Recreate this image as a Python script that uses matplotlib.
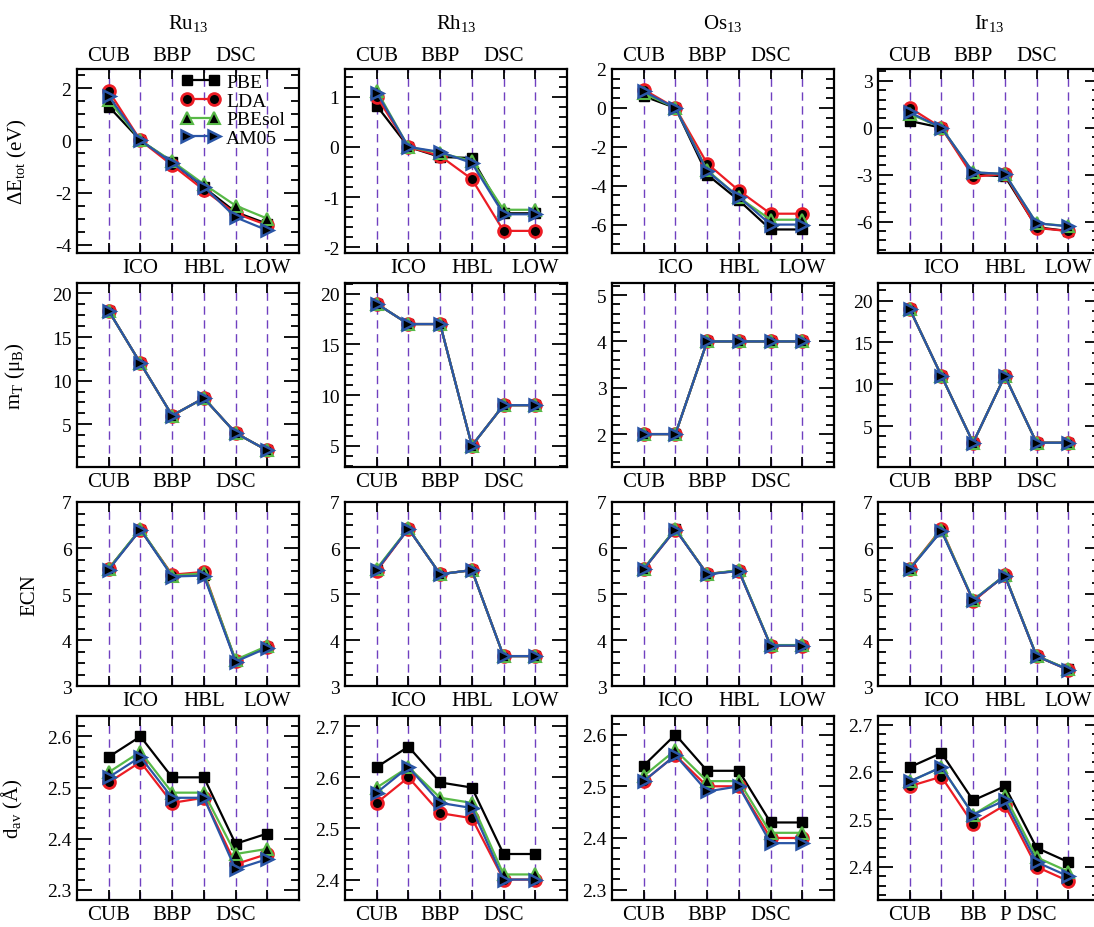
import matplotlib
matplotlib.use("Agg")
import matplotlib.pyplot as plt
from matplotlib.ticker import MultipleLocator, FormatStrFormatter
from matplotlib.transforms import blended_transform_factory

plt.rcParams['font.family'] = ['Liberation Serif', 'DejaVu Serif']
plt.rcParams['mathtext.fontset'] = 'custom'
plt.rcParams['mathtext.rm'] = 'Liberation Serif'
plt.rcParams['mathtext.it'] = 'Liberation Serif:italic'
plt.rcParams['mathtext.default'] = 'regular'

structures = ["CUB", "ICO", "BBP", "HBL", "DSC", "LOW"]
xpos = [1, 2, 3, 4, 5, 6]
functionals = ["PBE", "LDA", "PBEsol", "AM05"]
metals = ["Ru$_{13}$", "Rh$_{13}$", "Os$_{13}$", "Ir$_{13}$"]

# total energy relative to ICO (eV)
de_ru = {"PBE": [1.3, 0.0, -0.84, -1.80, -2.75, -3.20],
         "LDA": [1.9, 0.0, -0.95, -1.90, -2.80, -3.25],
         "PBEsol": [1.55, 0.0, -0.80, -1.68, -2.50, -3.00],
         "AM05": [1.7, 0.0, -0.85, -1.77, -2.95, -3.45]}
de_rh = {"PBE": [0.82, 0.0, -0.20, -0.22, -1.32, -1.32],
         "LDA": [1.00, 0.0, -0.18, -0.64, -1.67, -1.67],
         "PBEsol": [1.12, 0.0, -0.12, -0.28, -1.25, -1.25],
         "AM05": [1.08, 0.0, -0.10, -0.32, -1.34, -1.34]}
de_os = {"PBE": [0.60, 0.0, -3.43, -4.75, -6.25, -6.25],
         "LDA": [0.94, 0.0, -2.86, -4.25, -5.44, -5.44],
         "PBEsol": [0.75, 0.0, -3.20, -4.60, -5.75, -5.75],
         "AM05": [0.85, 0.0, -3.26, -4.58, -6.00, -6.00]}
de_ir = {"PBE": [0.43, 0.0, -3.00, -3.10, -6.35, -6.60],
         "LDA": [1.28, 0.0, -3.13, -2.95, -6.40, -6.60],
         "PBEsol": [0.90, 0.0, -2.85, -2.95, -6.10, -6.28],
         "AM05": [0.98, 0.0, -2.85, -2.95, -6.10, -6.30]}

# total magnetic moment (mu_B)
mt_ru = {f: [18, 12, 6, 8, 4, 2] for f in functionals}
mt_rh = {f: [19, 17, 17, 5, 9, 9] for f in functionals}
mt_os = {f: [2, 2, 4, 4, 4, 4] for f in functionals}
mt_ir = {f: [19, 11, 3, 11, 3, 3] for f in functionals}

# effective coordination number
ecn_ru = {"PBE": [5.55, 6.40, 5.40, 5.42, 3.55, 3.85],
          "LDA": [5.55, 6.40, 5.42, 5.48, 3.55, 3.85],
          "PBEsol": [5.55, 6.42, 5.40, 5.45, 3.57, 3.87],
          "AM05": [5.53, 6.40, 5.38, 5.40, 3.53, 3.83]}
ecn_rh = {"PBE": [5.53, 6.42, 5.43, 5.52, 3.65, 3.65],
          "LDA": [5.50, 6.42, 5.43, 5.52, 3.65, 3.65],
          "PBEsol": [5.55, 6.43, 5.43, 5.52, 3.65, 3.65],
          "AM05": [5.52, 6.42, 5.43, 5.52, 3.65, 3.65]}
ecn_os = {"PBE": [5.55, 6.41, 5.43, 5.51, 3.88, 3.88],
          "LDA": [5.54, 6.40, 5.44, 5.50, 3.88, 3.88],
          "PBEsol": [5.55, 6.42, 5.43, 5.52, 3.89, 3.89],
          "AM05": [5.54, 6.40, 5.43, 5.50, 3.88, 3.88]}
ecn_ir = {"PBE": [5.55, 6.38, 4.86, 5.40, 3.65, 3.36],
          "LDA": [5.55, 6.42, 4.84, 5.41, 3.65, 3.35],
          "PBEsol": [5.55, 6.40, 4.87, 5.41, 3.66, 3.36],
          "AM05": [5.54, 6.37, 4.86, 5.40, 3.65, 3.35]}

# average bond length (A)
dav_ru = {"PBE": [2.56, 2.60, 2.52, 2.52, 2.39, 2.41],
          "LDA": [2.51, 2.55, 2.47, 2.48, 2.35, 2.37],
          "PBEsol": [2.53, 2.57, 2.49, 2.49, 2.37, 2.38],
          "AM05": [2.52, 2.56, 2.48, 2.48, 2.34, 2.36]}
dav_rh = {"PBE": [2.62, 2.66, 2.59, 2.58, 2.45, 2.45],
          "LDA": [2.55, 2.60, 2.53, 2.52, 2.40, 2.40],
          "PBEsol": [2.58, 2.62, 2.56, 2.55, 2.41, 2.41],
          "AM05": [2.57, 2.62, 2.55, 2.54, 2.40, 2.40]}
dav_os = {"PBE": [2.54, 2.60, 2.53, 2.53, 2.43, 2.43],
          "LDA": [2.51, 2.56, 2.50, 2.50, 2.40, 2.40],
          "PBEsol": [2.52, 2.57, 2.51, 2.51, 2.41, 2.41],
          "AM05": [2.51, 2.56, 2.49, 2.50, 2.39, 2.39]}
dav_ir = {"PBE": [2.61, 2.64, 2.54, 2.57, 2.44, 2.41],
          "LDA": [2.57, 2.59, 2.49, 2.53, 2.40, 2.37],
          "PBEsol": [2.58, 2.61, 2.51, 2.55, 2.42, 2.39],
          "AM05": [2.58, 2.61, 2.51, 2.54, 2.41, 2.38]}

rows = [[de_ru, de_rh, de_os, de_ir],
        [mt_ru, mt_rh, mt_os, mt_ir],
        [ecn_ru, ecn_rh, ecn_os, ecn_ir],
        [dav_ru, dav_rh, dav_os, dav_ir]]

ylabels = ["ΔE$_{tot}$ (eV)", "m$_T$ (μ$_B$)", "ECN", "d$_{av}$ (Å)"]
ylabel_x = [-0.215, -0.225, -0.17, -0.235]

# (ylim, major, minor, format) per panel
yaxes = [[((-4.32, 2.74), 2, 0.5, "%d"), ((-2.11, 1.55), 1, 0.2, "%d"),
          ((-7.46, 2.0), 2, 0.5, "%d"), ((-8.0, 3.75), 3, 0.6, "%d")],
         [((0.1, 21.2), 5, 1.25, "%d"), ((2.9, 21.05), 5, 1, "%d"),
          ((1.29, 5.26), 1, 0.2, "%d"), ((0.1, 22.1), 5, 1.25, "%d")],
         [((3, 7), 1, 0.25, "%d")] * 4,
         [((2.28, 2.64), 0.1, 0.02, "%.1f"), ((2.36, 2.72), 0.1, 0.02, "%.1f"),
          ((2.28, 2.636), 0.1, 0.02, "%.1f"), ((2.33, 2.718), 0.1, 0.02, "%.1f")]]

style = {"PBE": dict(color="black", marker="s", mfc="black", mec="black", ms=7.5),
         "LDA": dict(color="#ec1c24", marker="o", mfc="black", mec="#ec1c24", ms=8.5, mew=2),
         "PBEsol": dict(color="#58b947", marker="^", mfc="black", mec="#58b947", ms=8.5, mew=1.5),
         "AM05": dict(color="#2a55a6", marker=">", mfc="black", mec="#2a55a6", ms=8.5, mew=1.8)}

W, H = 1094, 928
lefts = [77, 345, 612, 878]
tops = [70, 284, 503, 717]
pw, ph = 222, 184

fig = plt.figure(figsize=(W / 100, H / 100), dpi=100)

top_labels = (["CUB", "BBP", "DSC"], [1, 3, 5])
bottom_labels = [(["ICO", "HBL", "LOW"], [2, 4, 6]),
                 (["CUB", "BBP", "DSC"], [1, 3, 5]),
                 (["ICO", "HBL", "LOW"], [2, 4, 6]),
                 (["CUB", "BBP", "DSC"], [1, 3, 5])]

for r in range(4):
    for c in range(4):
        ax = fig.add_axes([lefts[c] / W, 1 - (tops[r] + ph) / H, pw / W, ph / H])
        data = rows[r][c]
        for x in xpos:
            ax.axvline(x, color="#7040c0", lw=1.0, ls=(0, (6, 4)), zorder=1)
        for f in functionals:
            ax.plot(xpos, data[f], lw=1.6, label=f, zorder=3, **style[f])

        (ylo, yhi), major, minor, fmt = yaxes[r][c]
        ax.set_xlim(0, 7)
        ax.set_ylim(ylo, yhi)
        ax.set_xticks(xpos)
        ax.set_xticklabels([])
        ax.yaxis.set_major_locator(MultipleLocator(major))
        ax.yaxis.set_minor_locator(MultipleLocator(minor))
        ax.yaxis.set_major_formatter(FormatStrFormatter(fmt))
        ax.tick_params(axis="both", which="both", direction="in", top=True, right=True, width=1.3)
        ax.tick_params(axis="x", which="major", length=7)
        ax.tick_params(axis="y", which="major", length=11, labelsize=14, pad=4)
        ax.tick_params(axis="y", which="minor", length=6)
        for s in ax.spines.values():
            s.set_linewidth(1.6)

        tr = blended_transform_factory(ax.transData, ax.transAxes)
        if r == 0:
            for lab, x in zip(*top_labels):
                ax.text(x, 1.075, lab, transform=tr, ha="center", va="center", fontsize=15)
            fig.text((lefts[c] + pw / 2) / W, 1 - 24 / H, metals[c], ha="center", va="center", fontsize=15)
        labs, xs = bottom_labels[r]
        if r == 3 and c == 3:
            labs, xs = ["CUB", "BB", "P", "DSC"], [1, 3, 4, 5]
        for lab, x in zip(labs, xs):
            ax.text(x, -0.08, lab, transform=tr, ha="center", va="center", fontsize=15)

        if c == 0:
            ax.set_ylabel(ylabels[r], fontsize=15)
            ax.yaxis.set_label_coords(ylabel_x[r], 0.5)
        if r == 0 and c == 0:
            ax.legend(loc="upper left", bbox_to_anchor=(0.47, 0.975), frameon=False,
                      numpoints=2, handlelength=2.0, handletextpad=0.3,
                      labelspacing=0.05, borderpad=0, borderaxespad=0, fontsize=14)

fig.savefig("out.png", dpi=100)
